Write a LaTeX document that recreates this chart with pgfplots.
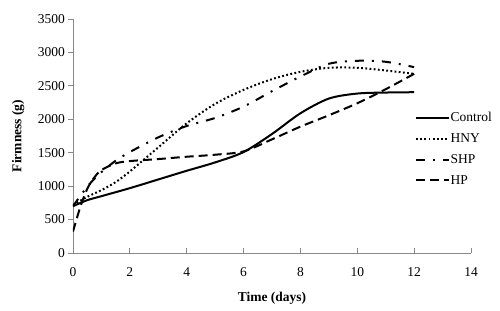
\documentclass[border=0pt]{standalone}
\usepackage{fontspec}
\setmainfont{Liberation Serif}
\usepackage{pgfplots}
\pgfplotsset{compat=1.18}
\usetikzlibrary{calc}
\definecolor{axgray}{RGB}{137,137,137}
\begin{document}
\begin{tikzpicture}
\begin{axis}[
  scale only axis,
  width=398bp, height=234bp,
  xmin=0, xmax=14, ymin=0, ymax=3500,
  xtick={0,2,...,14},
  ytick={0,500,...,3500},
  axis x line=bottom, axis y line=left,
  axis line style={-, axgray, line width=0.8bp},
  tick style={axgray, line width=0.8bp},
  tick align=outside,
  major tick length=4.5bp,
  x tick style={yshift=4.5bp},
  /pgf/number format/assume math mode=true,
  /pgf/number format/set thousands separator={},
  tick label style={font=\fontsize{13.5bp}{15bp}\selectfont},
  xticklabel style={yshift=-7bp},
  xlabel={\textbf{Time (days)}},
  ylabel={\textbf{Firmness (g)}},
  label style={font=\fontsize{13.5bp}{15bp}\selectfont},
  xlabel style={at={(axis description cs:0.5,-0.192)}, anchor=center},
  ylabel style={at={(axis description cs:-0.138,0.5)}, anchor=center},
  legend style={at={(axis description cs:0.859,0.605)}, anchor=north west,
    draw=none, fill=none, font=\fontsize{13.5bp}{15bp}\selectfont,
    row sep=9.5bp, inner sep=0pt,
    nodes={inner sep=0.5bp}},
  legend cell align=left,
  legend image code/.code={\draw[#1] (0bp,0bp) -- (33bp,0bp);},
  every axis plot/.append style={line width=2bp, black},
]
\coordinate (ll) at (rel axis cs:0,0);
\coordinate (ur) at (rel axis cs:1,1);
% Control
\addplot[smooth, tension=0.5] coordinates {
(0,700) (0.5,790) (1,850) (2,970) (3,1100) (4,1230) (5,1355) (6,1510)
(7,1780) (8,2090) (9,2310) (10,2385) (11,2400) (12,2405)};
\addlegendentry{Control}
% HNY
\addplot[smooth, tension=0.5, dash pattern=on 1.8bp off 2.4bp] coordinates {
(0,720) (0.5,840) (1,940) (1.5,1060) (2,1220) (3,1580) (4,1940) (5,2230)
(6,2440) (7,2600) (8,2710) (9,2770) (10,2770) (11,2730) (12,2680)};
\addlegendentry{HNY}
% SHP
\addplot[smooth, tension=0.5, dash pattern=on 9bp off 8bp on 2bp off 8bp] coordinates {
(0,700) (0.25,850) (0.5,990) (0.75,1110) (1,1210) (1.5,1380) (2,1510) (3,1730) (4,1900)
(5,2020) (6,2190) (7,2420) (8,2640) (9,2830) (10,2875) (11,2860) (12,2780)};
\addlegendentry{SHP}
% HP
\addplot[smooth, tension=0.5, dash pattern=on 9bp off 5bp] coordinates {
(0,320) (0.25,680) (0.5,960) (0.75,1130) (1,1240) (1.5,1340) (2,1375) (3,1405) (4,1440)
(5,1470) (6,1520) (7,1700) (8,1890) (9,2060) (10,2240) (11,2450) (12,2680)};
\addlegendentry{HP}
\end{axis}
\pgfresetboundingbox
\useasboundingbox ($(ll)+(-73bp,-58bp)$) rectangle ($(ur)+(29bp,19bp)$);
\end{tikzpicture}
\end{document}
